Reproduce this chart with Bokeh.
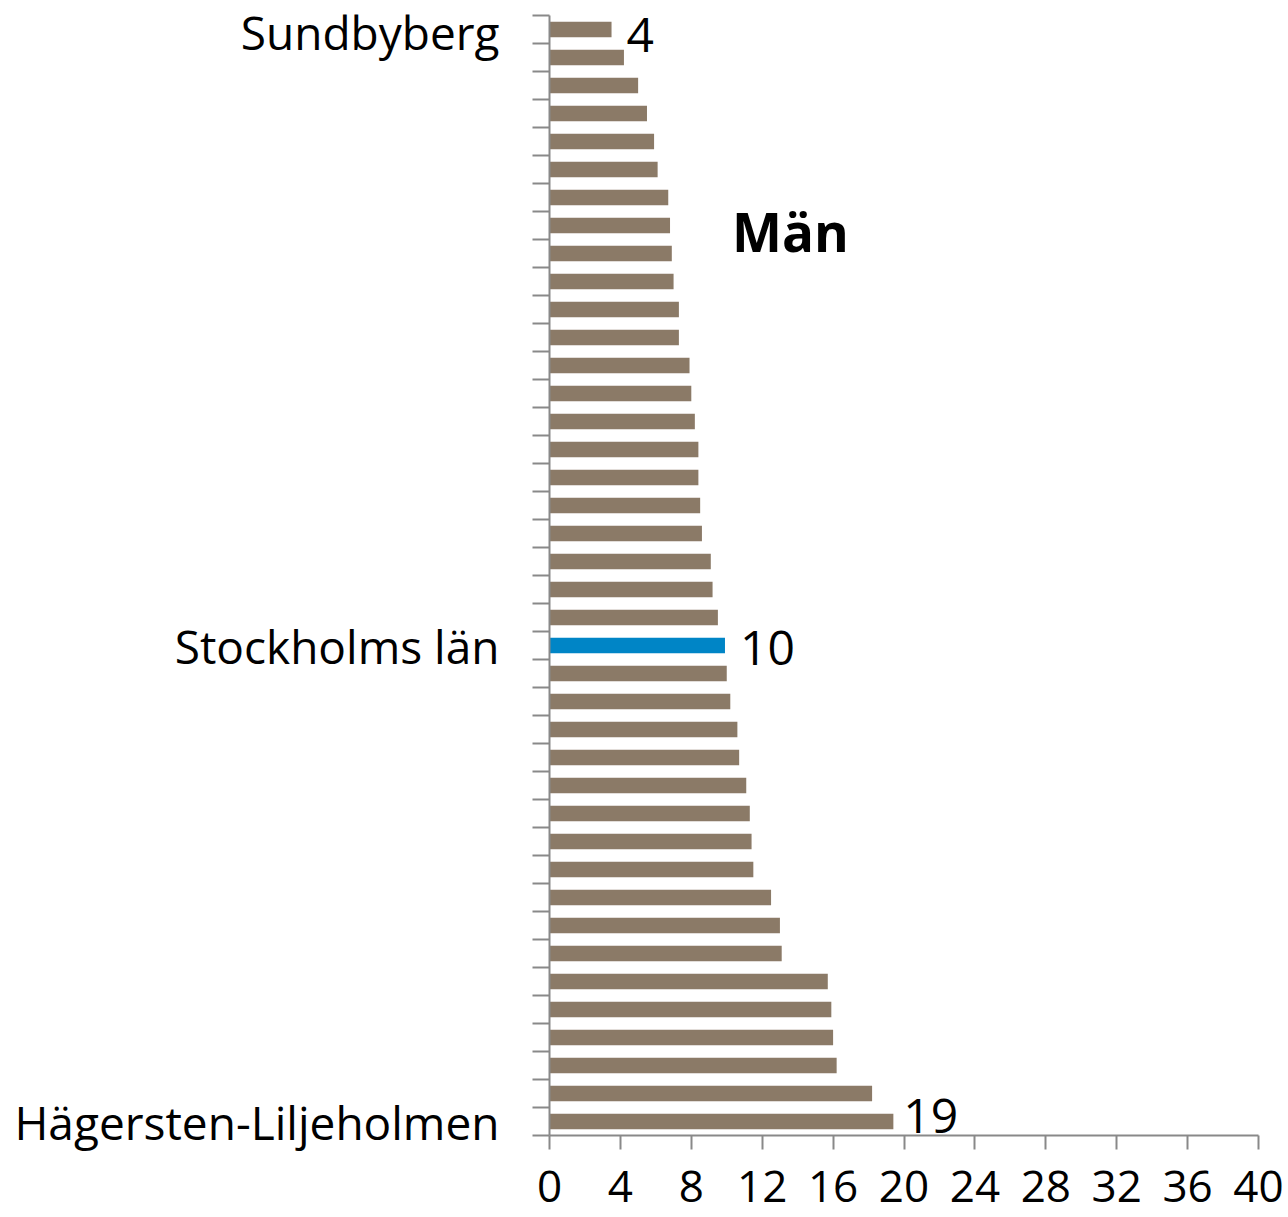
from bokeh.plotting import figure
from bokeh.models import Range1d, FixedTicker, ColumnDataSource, Label, LabelSet
from bokeh.core.properties import value
from bokeh.embed import file_html
from bokeh.resources import INLINE

# ---- data ----
categories = ["Sundbyberg"] + [""] * 21 + ["Stockholms län"] + [""] * 16 + ["Hägersten-Liljeholmen"]
values = [3.5, 4.2, 5.0, 5.5, 5.9, 6.1, 6.7, 6.8, 6.9, 7.0,
          7.3, 7.3, 7.9, 8.0, 8.2, 8.4, 8.4, 8.5, 8.6, 9.1,
          9.2, 9.5, 9.9, 10.0, 10.2, 10.6, 10.7, 11.1, 11.3, 11.4,
          11.5, 12.5, 13.0, 13.1, 15.7, 15.9, 16.0, 16.2, 18.2, 19.4]
highlight = "Stockholms län"
labelled = ["Sundbyberg", "Stockholms län", "Hägersten-Liljeholmen"]
x_ticks = [0, 4, 8, 12, 16, 20, 24, 28, 32, 36, 40]
title_text = "Män"

BROWN = "#8B7A67"
BLUE = "#0085C6"
AXIS = "#898989"
FONT = "Open Sans"

n = len(categories)
pos = list(range(1, n + 1))
colors = [BLUE if c == highlight else BROWN for c in categories]

src = ColumnDataSource(dict(y=pos, right=values, color=colors, name=categories))

# label nudges (screen px), as in the original layout
label_dx = [15, 15, 10]
label_dy = [-5, -2, 6]

lab_idx = [categories.index(c) for c in labelled]
lab_src = ColumnDataSource(dict(
    x=[values[i] for i in lab_idx],
    y=[pos[i] for i in lab_idx],
    text=[f"{values[i]:.0f}" for i in lab_idx],
    dx=label_dx,
    dy=label_dy,
))

# frame reaches the top edge so the top value label is not clipped;
# one category band is 28 px, the axis line itself starts 15 px down
band_px = 28
top_pad = 15 / band_px
y_top = 0.5 - top_pad

p = figure(width=1288, height=1217, output_backend="svg", toolbar_location=None,
           x_range=Range1d(0, 40), y_range=Range1d(n + 0.5, y_top),
           min_border_left=549, min_border_right=30, min_border_top=0, min_border_bottom=82,
           x_axis_location="below")
p.outline_line_color = None
p.xgrid.visible = False
p.ygrid.visible = False
p.background_fill_color = "white"
p.border_fill_color = "white"

p.hbar(y="y", left=0, right="right", height=0.55, color="color", source=src,
       line_color=None)

p.add_layout(LabelSet(x="x", y="y", text="text", source=lab_src, x_offset="dx", y_offset="dy",
                      text_baseline="middle", text_align="left", text_font=value(FONT),
                      text_font_size=value("48px"), text_color="black"))

# x axis
xa = p.xaxis[0]
xa.ticker = FixedTicker(ticks=x_ticks, minor_ticks=[])
xa.axis_line_color = AXIS
xa.axis_line_width = 2
xa.major_tick_line_color = AXIS
xa.major_tick_line_width = 2
xa.major_tick_out = 14
xa.major_tick_in = 0
xa.minor_tick_line_color = None
xa.major_label_text_font = FONT
xa.major_label_text_font_size = "44px"
xa.major_label_text_color = "black"
xa.major_label_standoff = 21

# y axis
ya = p.yaxis[0]
ya.bounds = (0.5, n + 0.5)
ya.ticker = FixedTicker(ticks=[pos[i] for i in lab_idx],
                        minor_ticks=[k + 0.5 for k in range(0, n + 1)])
ya.major_label_overrides = {pos[i]: categories[i] for i in lab_idx}
ya.axis_line_color = AXIS
ya.axis_line_width = 2
ya.major_tick_line_color = None
ya.major_tick_out = 0
ya.major_tick_in = 0
ya.minor_tick_line_color = AXIS
ya.minor_tick_line_width = 2
ya.minor_tick_out = 17
ya.minor_tick_in = 0
ya.major_label_text_font = FONT
ya.major_label_text_font_size = "46px"
ya.major_label_text_color = "black"
ya.major_label_standoff = 33

p.add_layout(Label(x=10.3, y=8.2, text=title_text, text_font=FONT,
                   text_font_style="bold", text_font_size="53px",
                   text_baseline="middle", text_color="black"))

open("out.html", "w").write(file_html(p, INLINE))
